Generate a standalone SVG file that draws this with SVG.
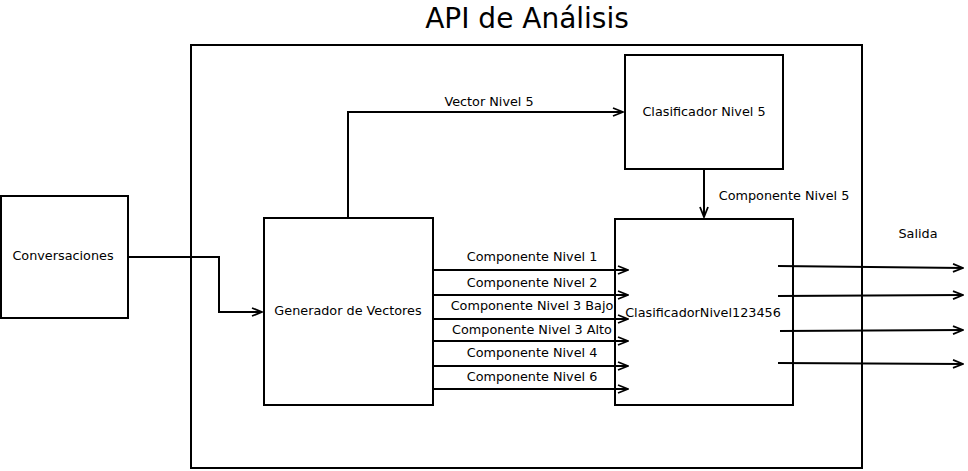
<svg xmlns="http://www.w3.org/2000/svg" width="968" height="471" viewBox="0 0 968 471">
<style>
.box{fill:#fff;stroke:#000;stroke-width:2}
.frame{fill:none;stroke:#000;stroke-width:2}
.t{font-family:"DejaVu Sans",sans-serif;font-size:12.8px;fill:#000;text-anchor:middle}
.title{font-family:"DejaVu Sans",sans-serif;font-size:28px;fill:#000;text-anchor:middle}
.c{fill:none;stroke:#000;stroke-width:2;marker-end:url(#a)}
</style>
<defs>
<marker id="a" viewBox="0 0 12 10" refX="11" refY="5" markerWidth="12" markerHeight="10" markerUnits="userSpaceOnUse" orient="auto">
<path d="M1,1 L11,5 L1,9" fill="none" stroke="#000" stroke-width="1.8"/>
</marker>
</defs>
<text class="title" x="527" y="28">API de Análisis</text>
<g id="api"><rect class="frame" x="191" y="45" width="671" height="423"/></g>
<g id="conversaciones"><rect class="box" x="1" y="196" width="127" height="122"/><text class="t" x="63" y="260">Conversaciones</text></g>
<g id="generador"><rect class="box" x="264" y="218" width="169" height="187"/><text class="t" x="348" y="315">Generador de Vectores</text></g>
<g id="clasificador5"><rect class="box" x="625" y="55" width="158" height="114"/><text class="t" x="704" y="116">Clasificador Nivel 5</text></g>
<g id="clasificador123456"><rect class="box" x="615" y="219" width="178" height="186"/><text class="t" x="703" y="317">ClasificadorNivel123456</text></g>
<g id="connectors">
<path class="c" d="M128,257 H219 V312 H262"/>
<path class="c" d="M348,218 V112 H623"/>
<text class="t" x="489" y="106">Vector Nivel 5</text>
<path class="c" d="M704,169 V217"/>
<text class="t" x="784" y="200">Componente Nivel 5</text>
<path class="c" d="M433,270 H628"/>
<path class="c" d="M433,295 H628"/>
<path class="c" d="M433,319 H628"/>
<path class="c" d="M433,341 H628"/>
<path class="c" d="M433,366 H628"/>
<path class="c" d="M433,389 H628"/>
<text class="t" x="532" y="261">Componente Nivel 1</text>
<text class="t" x="532" y="287">Componente Nivel 2</text>
<text class="t" x="532" y="310">Componente Nivel 3 Bajo</text>
<text class="t" x="532" y="334">Componente Nivel 3 Alto</text>
<text class="t" x="532" y="357">Componente Nivel 4</text>
<text class="t" x="532" y="381">Componente Nivel 6</text>
<path class="c" d="M778,266 L963,268"/>
<path class="c" d="M778,296 L963,295"/>
<path class="c" d="M780,331 L963,330"/>
<path class="c" d="M778,363 L963,364"/>
<text class="t" x="918" y="238">Salida</text>
</g>
</svg>
